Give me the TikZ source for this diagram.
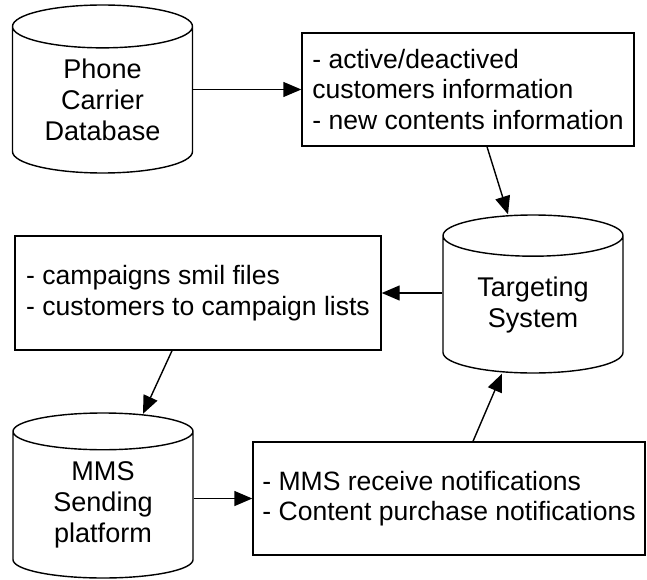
\documentclass[tikz,border=0pt]{standalone}
\usepackage{fontspec}
\setmainfont{Liberation Sans}
\usetikzlibrary{arrows.meta,shapes.geometric}

\begin{document}
\begin{tikzpicture}[>={Triangle[length=0.36cm,width=0.3cm]}, line width=0.8pt,
  box/.style={draw, rectangle, minimum height=2.26cm, align=left, inner sep=0pt, font=\fontsize{15.1}{17.4}\selectfont},
  db/.style={draw, cylinder, shape border rotate=90, aspect=0.37, minimum width=3.6cm, anchor=shape center, align=center, inner sep=0pt, font=\fontsize{15.4}{17.6}\selectfont}]
  \useasboundingbox (0,0) rectangle (12.94,-11.58);
  \node[db, minimum height=3.36cm] (phone) at (2.05,-1.78) {Phone\\Carrier\\Database};
  \node[db, minimum height=3.16cm] (tgt) at (10.66,-5.88) {Targeting\\System};
  \node[db, minimum height=3.3cm] (mms) at (2.06,-9.91) {MMS\\Sending\\platform};
  \node[box, minimum width=6.64cm] (info) at (9.36,-1.79) {- active/deactived\\customers information\\- new contents information};
  \node[box, minimum width=7.32cm, minimum height=2.28cm] (camp) at (3.96,-5.86) {- campaigns smil files\\- customers to campaign lists};
  \node[box, minimum width=7.84cm] (notif) at (8.98,-9.97) {- MMS receive notifications\\- Content purchase notifications};
  \draw[->] (phone.east |- info.west) -- (info.west);
  \draw[->] ([xshift=0.38cm]info.south) -- ([xshift=-0.5cm]tgt.north);
  \draw[->] (tgt.west |- camp.east) -- (camp.east);
  \draw[->] ([xshift=-0.52cm]camp.south) -- ([xshift=0.8cm,yshift=-0.03cm]mms.north);
  \draw[->] (mms.east |- notif.west) -- (notif.west);
  \draw[->] ([xshift=0.48cm]notif.north) -- ([xshift=-0.62cm]tgt.south);
\end{tikzpicture}
\end{document}
